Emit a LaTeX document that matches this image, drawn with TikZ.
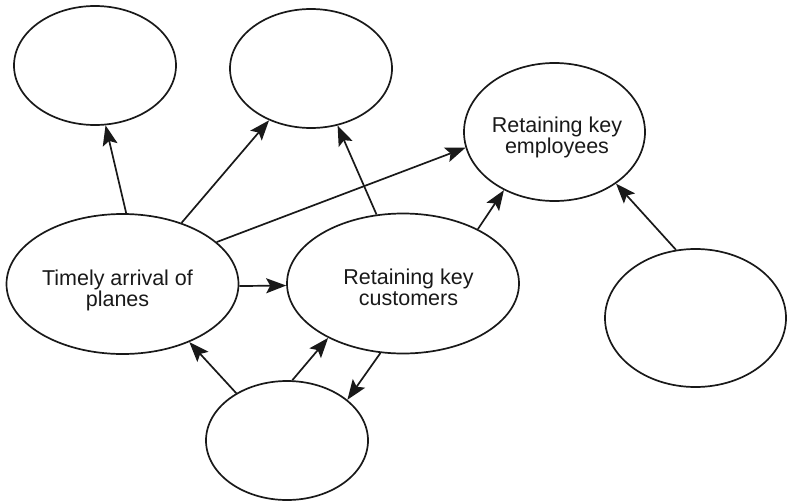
\documentclass[tikz,border=0pt]{standalone}
\usepackage{fontspec}
\setmainfont{Liberation Sans}
\usetikzlibrary{shapes.geometric,arrows.meta}
\tikzset{
  ellbase/.style={draw=black!90, ellipse, line width=1.7pt, inner sep=0pt},
  ellsmall/.style={ellbase, minimum width=162pt, minimum height=119pt},
  ellmid/.style={ellbase, minimum width=181pt, minimum height=138pt},
  ellbig/.style={ellbase, minimum width=232pt, minimum height=140pt},
  txt/.style={align=center, inner sep=0pt, text=black!90, font=\fontsize{21.5}{21}\selectfont},
  tipstyle/.tip={Stealth[length=20pt,width=15pt,inset=4pt]},
  conn/.style={line width=1.7pt, draw=black!90, -tipstyle}
}
\begin{document}
\begin{tikzpicture}[x=1pt,y=-1pt]
\useasboundingbox (0,0) rectangle (787,501);
\node[ellsmall] (e1) at (95,65.5) {};
\node[ellsmall] (e2) at (311,68.5) {};
\node[ellmid]   (e3) at (554.5,132) {};
\node[ellbig]   (e4) at (122.5,284) {};
\node[ellbig]   (e5) at (403,283.5) {};
\node[ellmid]   (e6) at (695.5,318) {};
\node[ellsmall] (e7) at (287,440.5) {};
\node[txt] (t3) at (557,137.5) {Retaining key\\employees};
\node[txt] (t4) at (117.5,290) {Timely arrival of\\planes};
\node[txt] (t5) at (408.5,287.5) {Retaining key\\customers};
\draw[conn] (e4.87.2) -- (e1.-80.9);
\draw[conn] (e4.46.2) -- (e2.-129.4);
\draw[conn] (e5.111.2) -- (e2.-65.5);
\draw[conn] (e4.24) -- (e3.190.8);
\draw[conn] (e5.36.2) -- (e3.-131.2);
\draw[conn] (e6.106) -- (e3.-40.5);
\draw[conn] (e4.-1) -- (e5.181.2);
\draw[conn] (e7.137) -- (e4.-41.6);
\draw[conn] (e7.85.2) -- (e5.-144.6);
\draw[conn] (e5.-108.3) -- (e7.34.9);
\end{tikzpicture}
\end{document}
